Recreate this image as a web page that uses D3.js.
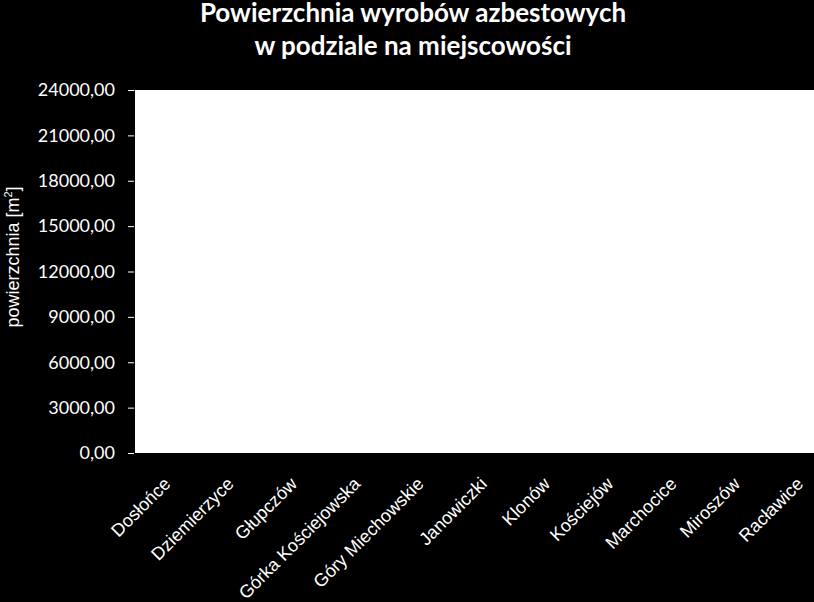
<!DOCTYPE html>
<html>
<head>
<meta charset="utf-8">
<script src="https://cdn.jsdelivr.net/npm/d3@7/dist/d3.min.js"></script>
<style>
  body { margin: 0; background: #000; }
</style>
</head>
<body>
<script>
// chart data
var places = ["Dosłońce", "Dziemierzyce", "Głupczów", "Górka Kościejowska", "Góry Miechowskie",
  "Janowiczki", "Klonów", "Kościejów", "Marchocice", "Miroszów", "Racławice"];
// no bars can be seen in the picture, so every value reads as 0
var area = [0, 0, 0, 0, 0, 0, 0, 0, 0, 0, 0];
var yTicks = [0, 3000, 6000, 9000, 12000, 15000, 18000, 21000, 24000];
var titleLines = ["Powierzchnia wyrobów azbestowych", "w podziale na miejscowości"];

var chart = {
  width: 814,
  height: 602,
  left: 134,
  right: 830,   // plot runs past the right edge of the picture
  top: 90,
  bottom: 453
};

var svg = d3.select("body")
  .append("svg")
  .attr("width", chart.width)
  .attr("height", chart.height)
  .style("display", "block")
  .style("background-color", "black");

var x = d3.scaleBand()
  .domain(places)
  .range([chart.left, chart.right])
  .paddingInner(0.5)
  .paddingOuter(0.25);

var y = d3.scaleLinear()
  .domain([0, 24000])
  .range([chart.bottom, chart.top]);

// plot area
svg.append("rect")
  .attr("x", chart.left)
  .attr("y", chart.top)
  .attr("width", chart.right - chart.left)
  .attr("height", chart.bottom - chart.top)
  .attr("fill", "white");

// bars
svg.selectAll("rect.bar")
  .data(area)
  .enter()
  .append("rect")
  .attr("class", "bar")
  .attr("x", function(d, i){ return x(places[i]); })
  .attr("width", x.bandwidth())
  .attr("y", function(d){ return y(d); })
  .attr("height", function(d){ return y(0) - y(d); })
  .attr("fill", "#4f81bd");

// y axis
var yAxis = svg.append("g")
  .attr("transform", "translate(" + chart.left + ",0)")
  .call(d3.axisLeft(y)
    .tickValues(yTicks)
    .tickSize(6)
    .tickPadding(13)
    .tickFormat(function(d){ return d3.format(".2f")(d).replace(".", ","); }));

yAxis.select(".domain").attr("stroke", "black");
yAxis.selectAll(".tick line").attr("stroke", "white");
yAxis.selectAll(".tick text")
  .attr("fill", "white")
  .style("font-family", "Lato, 'Open Sans', sans-serif")
  .style("font-size", "18px");

// category labels
svg.append("g")
  .selectAll("text")
  .data(places)
  .enter()
  .append("text")
  .attr("transform", function(d){
    return "translate(" + (x(d) + x.bandwidth() / 2 + 6) + ",485) rotate(-45)";
  })
  .attr("text-anchor", "end")
  .attr("fill", "white")
  .style("font-family", "'Liberation Sans', Arial, sans-serif")
  .style("font-size", "18px")
  .text(function(d){ return d; });

// y axis title
var yTitle = svg.append("text")
  .attr("transform", "translate(19,257) rotate(-90)")
  .attr("text-anchor", "middle")
  .attr("fill", "white")
  .style("font-family", "'Liberation Sans', Arial, sans-serif")
  .style("font-size", "18px");
yTitle.append("tspan").text("powierzchnia [m");
yTitle.append("tspan").attr("dy", -7).style("font-size", "11px").text("2");
yTitle.append("tspan").attr("dy", 7).text("]");

// title
svg.append("g")
  .selectAll("text")
  .data(titleLines)
  .enter()
  .append("text")
  .attr("x", 413)
  .attr("y", function(d, i){ return 22 + i * 33; })
  .attr("text-anchor", "middle")
  .attr("fill", "white")
  .style("font-family", "Lato, 'Open Sans', sans-serif")
  .style("font-weight", "bold")
  .style("font-size", "26px")
  .text(function(d){ return d; });
</script>
</body>
</html>
